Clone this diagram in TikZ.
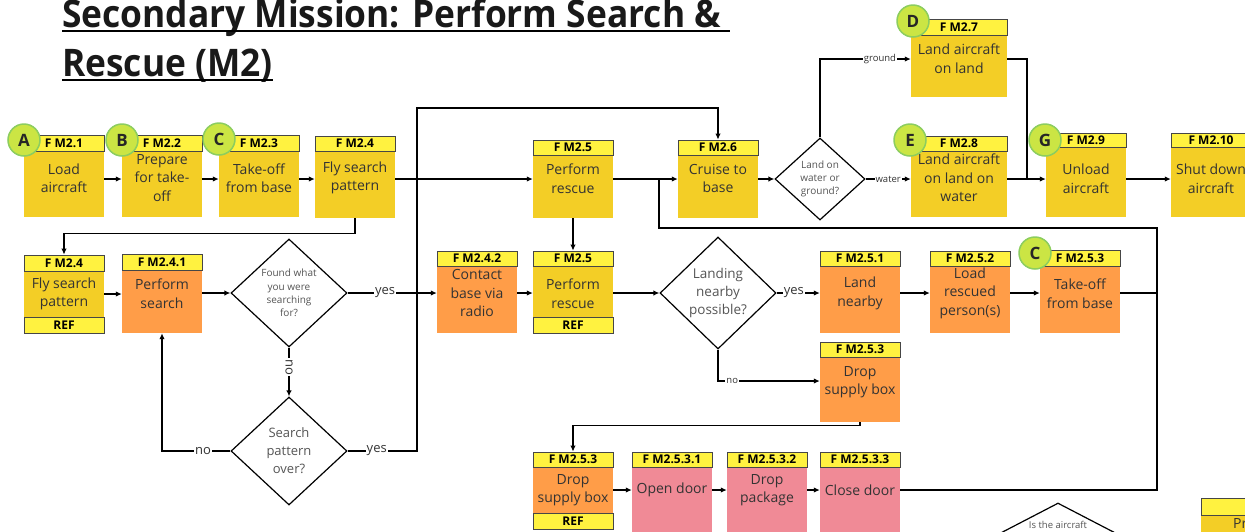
\documentclass[tikz,border=0pt]{standalone}
\usepackage{fontspec}
\setmainfont{Open Sans}
\usetikzlibrary{arrows.meta,shapes.geometric}
\definecolor{headY}{RGB}{255,242,64}
\definecolor{bodyY}{RGB}{243,206,38}
\definecolor{bodyO}{RGB}{255,157,72}
\definecolor{bodyP}{RGB}{240,138,150}
\definecolor{circF}{RGB}{203,229,68}
\definecolor{circB}{RGB}{140,205,95}
\definecolor{hdline}{RGB}{70,70,70}
\definecolor{txt}{RGB}{51,51,51}
\definecolor{diaT}{RGB}{85,85,85}
\newcommand\fs[2]{\fontsize{#1pt}{#2pt}\selectfont}
\begin{document}
\begin{tikzpicture}[x=1pt,y=-1pt,
  hd/.style={draw=hdline, line width=0.8pt, fill=headY, minimum width=80pt, inner sep=0pt,
             font=\fs{12}{14}\bfseries, text=black},
  bd/.style={minimum width=80pt, inner sep=0pt},
  bt/.style={align=center, font=\fs{14}{18.5}, text=txt, inner sep=0pt},
  circ/.style={circle, fill=circF, draw=circB, line width=1.5pt, minimum size=32pt, inner sep=0pt,
               font=\fs{17}{17}\bfseries, text=black!85},
  dia/.style={diamond, draw=black, line width=1.2pt, fill=white, inner sep=0pt},
  dt/.style={align=center, text=diaT, inner sep=0pt},
  ln/.style={line width=1.3pt},
  arr/.style={line width=1.3pt, -{Latex[length=6pt,width=5.5pt]}},
  lbl/.style={fill=white, inner sep=1pt, text=txt, font=\fs{13}{13}},
  lbls/.style={fill=white, inner sep=1pt, text=txt, font=\fs{9.5}{9.5}}]
\useasboundingbox (0,0) rectangle (1245,531);
\clip (0,0) rectangle (1245,531);

% ---------- title ----------
\node[anchor=base west, inner sep=0pt, font=\fs{38}{38}\bfseries, text=black!90] (t1) at (62,27)
  {\scalebox{0.93}[1]{Secondary Mission: Perform Search \&\ }};
\node[anchor=base west, inner sep=0pt, font=\fs{38}{38}\bfseries, text=black!90] (t2) at (62,76)
  {\scalebox{0.93}[1]{Rescue (M2)}};
\draw[line width=2pt] ([yshift=-4pt]t1.base west) -- ([yshift=-4pt]t1.base east);
\draw[line width=2pt] ([yshift=-4pt]t2.base west) -- ([yshift=-4pt]t2.base east);

% ---------- top row ----------
\node[bd, fill=bodyY, minimum height=66pt, label={[bt,yshift=6pt]center:Load\\aircraft}] (m21) at (64,184) {};
\node[hd, minimum height=16pt] (m21h) at (64,143) {F M2.1};
\node[bd, fill=bodyY, minimum height=66pt, label={[bt,yshift=6pt]center:Prepare\\for take-\\off}] (m22) at (162,184) {};
\node[hd, minimum height=16pt] (m22h) at (162,143) {F M2.2};
\node[bd, fill=bodyY, minimum height=66pt, label={[bt,yshift=6pt]center:Take-off\\from base}] (m23) at (259,184) {};
\node[hd, minimum height=16pt] (m23h) at (259,143) {F M2.3};
\node[bd, fill=bodyY, minimum height=67pt, label={[bt,yshift=6.5pt]center:Fly search\\pattern}] (m24) at (355,184.5) {};
\node[hd, minimum height=15pt] (m24h) at (355,143.5) {F M2.4};
\node[bd, fill=bodyY, minimum height=63pt, label={[bt,yshift=8pt]center:Perform\\rescue}] (m25) at (573,186.5) {};
\node[hd, minimum height=15pt] (m25h) at (573,147.5) {F M2.5};
\node[bd, fill=bodyY, minimum height=63pt, label={[bt,yshift=8pt]center:Cruise to\\base}] (m26) at (718,186.5) {};
\node[hd, minimum height=15pt] (m26h) at (718,147.5) {F M2.6};
\node[dia, minimum width=90pt, minimum height=82pt,
      label={[dt,font=\fs{10}{13}]center:Land on\\water or\\ground?}] (d0) at (820,179) {};
\node[bd, minimum width=96pt, fill=bodyY, minimum height=62pt, label={[bt,yshift=7.5pt]center:Land aircraft\\on land}] (m27) at (959,66) {};
\node[hd, minimum width=96pt, minimum height=16pt] (m27h) at (959,27) {F M2.7};
\node[bd, minimum width=96pt, fill=bodyY, minimum height=66pt, label={[bt,yshift=6pt]center:Land aircraft\\on land on\\water}] (m28) at (959,184) {};
\node[hd, minimum width=96pt, minimum height=15pt] (m28h) at (959,143.5) {F M2.8};
\node[bd, fill=bodyY, minimum height=70pt, label={[bt,yshift=3.5pt]center:Unload\\aircraft}] (m29) at (1086,182) {};
\node[hd, minimum height=14pt] (m29h) at (1086,140) {F M2.9};
\node[bd, fill=bodyY, minimum height=70pt, label={[bt,yshift=3.5pt]center:Shut down\\aircraft}] (m210) at (1211,182) {};
\node[hd, minimum height=14pt] (m210h) at (1211,140) {F M2.10};

% ---------- search row ----------
\node[bd, fill=bodyY, minimum height=46pt, label={[bt]center:Fly search\\pattern}] (r24) at (64,294) {};
\node[hd, minimum height=16pt] (r24h) at (64,263) {F M2.4};
\node[hd, minimum height=16pt] (r24r) at (64,325) {REF};
\node[bd, fill=bodyO, minimum height=63pt, label={[bt,yshift=8pt]center:Perform\\search}] (r241) at (162,301.5) {};
\node[hd, minimum height=16pt] (r241h) at (162,262) {F M2.4.1};
\node[dia, minimum width=116pt, minimum height=108pt,
      label={[dt,font=\fs{10}{13.3}]center:Found what\\you were\\searching\\for?}] (d1) at (289,293) {};
\node[dia, minimum width=116pt, minimum height=108pt,
      label={[dt,font=\fs{13}{18}]center:Search\\pattern\\over?}] (d2) at (289,451) {};
\node[bd, fill=bodyO, minimum height=67pt, label={[bt,yshift=6.5pt]center:Contact\\base via\\radio}] (r242) at (477,299.5) {};
\node[hd, minimum height=15pt] (r242h) at (477,258.5) {F M2.4.2};
\node[bd, fill=bodyY, minimum height=51pt, label={[bt,yshift=-2pt]center:Perform\\rescue}] (r25) at (573,291.5) {};
\node[hd, minimum height=15pt] (r25h) at (573,258.5) {F M2.5};
\node[hd, minimum height=16pt] (r25r) at (573,325) {REF};
\node[dia, minimum width=116pt, minimum height=112pt,
      label={[dt,font=\fs{13.5}{18}]center:Landing\\nearby\\possible?}] (d3) at (718,293) {};
\node[bd, fill=bodyO, minimum height=67pt, label={[bt,yshift=6pt]center:Land\\nearby}] (r251) at (860,299.5) {};
\node[hd, minimum height=15pt] (r251h) at (860,258.5) {F M2.5.1};
\node[bd, fill=bodyO, minimum height=67pt, label={[bt,yshift=6.5pt]center:Load\\rescued\\person(s)}] (r252) at (970,299.5) {};
\node[hd, minimum height=15pt] (r252h) at (970,258.5) {F M2.5.2};
\node[bd, fill=bodyO, minimum height=67pt, label={[bt,yshift=6pt]center:Take-off\\from base}] (r253) at (1080,299.5) {};
\node[hd, minimum height=16pt] (r253h) at (1080,258) {F M2.5.3};
\node[bd, fill=bodyO, minimum height=65pt, label={[bt,yshift=7.5pt]center:Drop\\supply box}] (r253d) at (860,389.5) {};
\node[hd, minimum height=15pt] (r253dh) at (860,349.5) {F M2.5.3};

% ---------- supply drop row ----------
\node[bd, fill=bodyO, minimum height=46pt, label={[bt]center:Drop\\supply box}] (s253) at (573,490) {};
\node[hd, minimum height=15pt] (s253h) at (573,459.5) {F M2.5.3};
\node[hd, minimum height=16pt] (s253r) at (573,521) {REF};
\node[bd, fill=bodyP, minimum height=73pt, label={[bt,yshift=13.5pt]center:Open door}] (s2531) at (672,503.5) {};
\node[hd, minimum height=15pt] (s2531h) at (672,459.5) {F M2.5.3.1};
\node[bd, fill=bodyP, minimum height=73pt, label={[bt,yshift=13.5pt]center:Drop\\package}] (s2532) at (767,503.5) {};
\node[hd, minimum height=15pt] (s2532h) at (767,459.5) {F M2.5.3.2};
\node[bd, fill=bodyP, minimum height=73pt, label={[bt,yshift=13.5pt]center:Close door}] (s2533) at (860,503.5) {};
\node[hd, minimum height=15pt] (s2533h) at (860,459.5) {F M2.5.3.3};

% ---------- continuation at the lower right ----------
\node[dia, minimum width=200pt, minimum height=104pt] (d4) at (1058,555) {};
\node[dt, font=\fs{9.5}{9.5}] (d4t) at (1058,525) {Is the aircraft};
\node[bd, fill=bodyY, minimum height=45pt] (p1) at (1241,537.5) {};
\node[hd, minimum height=17pt] (p1h) at (1241,506.5) {};
\node[bt, anchor=west] (p1t) at (1233,523) {Pr};

% ---------- markers ----------
\node[circ] (cA) at (24,140) {A};
\node[circ] (cB) at (122,140) {B};
\node[circ] (cC) at (219,139) {C};
\node[circ] (cD) at (913,21) {D};
\node[circ] (cE) at (910,140) {E};
\node[circ] (cG) at (1045,140) {G};
\node[circ] (cC2) at (1035,253) {C};

% ---------- connectors: top row ----------
\coordinate (j1) at (1027,179);
\coordinate (k1) at (417,108);
\coordinate (q1) at (1157,228);
\coordinate (q2) at (659,228);
\draw[arr] ([yshift=5pt]m21.east) -- ([yshift=5pt]m22.west);
\draw[arr] ([yshift=5pt]m22.east) -- ([yshift=5pt]m23.west);
\draw[arr] ([yshift=5pt]m23.east) -- ([yshift=5.5pt]m24.west);
\draw[arr] ([yshift=5.5pt]m24.east) -- ([yshift=5.5pt]m24.east -| m25.west);
\draw[arr] ([yshift=7.5pt]m25.east) -- ([yshift=7.5pt]m26.west);
\draw[arr] ([yshift=7.5pt]m26.east) -- (d0.west);
\draw[arr] (d0.north) |- node[lbls, pos=0.83]{ground} ([yshift=7pt]m27.west);
\draw[arr] (d0.east) -- node[lbls]{water} (d0.east -| m28.west);
\draw[ln] ([yshift=7pt]m27.east) -| (j1);
\draw[arr] ([yshift=5pt]m28.east) -- ([yshift=5pt]m28.east -| m29.west);
\draw[arr] ([yshift=3pt]m29.east) -- ([yshift=3pt]m210.west);
\draw[arr] (m24.south) -- ++(0,15) -| (r24h.north);
\draw[arr] (d2.east) -- node[lbl, pos=0.42]{yes} (d2.east -| k1) -- (k1) -| (m26h.north);

% ---------- connectors: search and rescue ----------
\draw[arr] (r24.east) -- (r24.east -| r241.west);
\draw[arr] (d1.west -| r241.east) -- (d1.west);
\draw[arr] (d1.east) -- node[lbl, pos=0.42]{yes} (d1.east -| r242.west);
\draw[arr] (d1.south) -- node[lbl, rotate=-90, pos=0.4]{no} (d2.north);
\draw[arr] (d2.west) -| node[lbl, pos=0.2]{no} (r241.south);
\draw[arr] (d1.east -| r242.east) -- (d1.east -| r25.west);
\draw[arr] (m25.south) -- (r25h.north);
\draw[arr] (d3.west -| r25.east) -- (d3.west);
\draw[arr] (d3.east) -- node[lbl, pos=0.4]{yes} (d3.east -| r251.west);
\draw[arr] (d3.south) |- node[lbls, pos=0.57]{no} ([yshift=8.5pt]r253d.west);
\draw[arr] (d3.east -| r251.east) -- (d3.east -| r252.west);
\draw[arr] (d3.east -| r252.east) -- (d3.east -| r253.west);
\draw[ln] (d3.east -| r253.east) -- (d3.east -| q1);
\draw[arr] (r253d.south) -- ++(0,3) -| (s253h.north);
\draw[arr] (s253.east) -- (s253.east -| s2531.west);
\draw[arr] (s253.east -| s2531.east) -- (s253.east -| s2532.west);
\draw[arr] (s253.east -| s2532.east) -- (s253.east -| s2533.west);
\draw[ln] (s253.east -| s2533.east) -| (q1) -- (q2) -- (q2 |- d0.west);
\end{tikzpicture}
\end{document}
